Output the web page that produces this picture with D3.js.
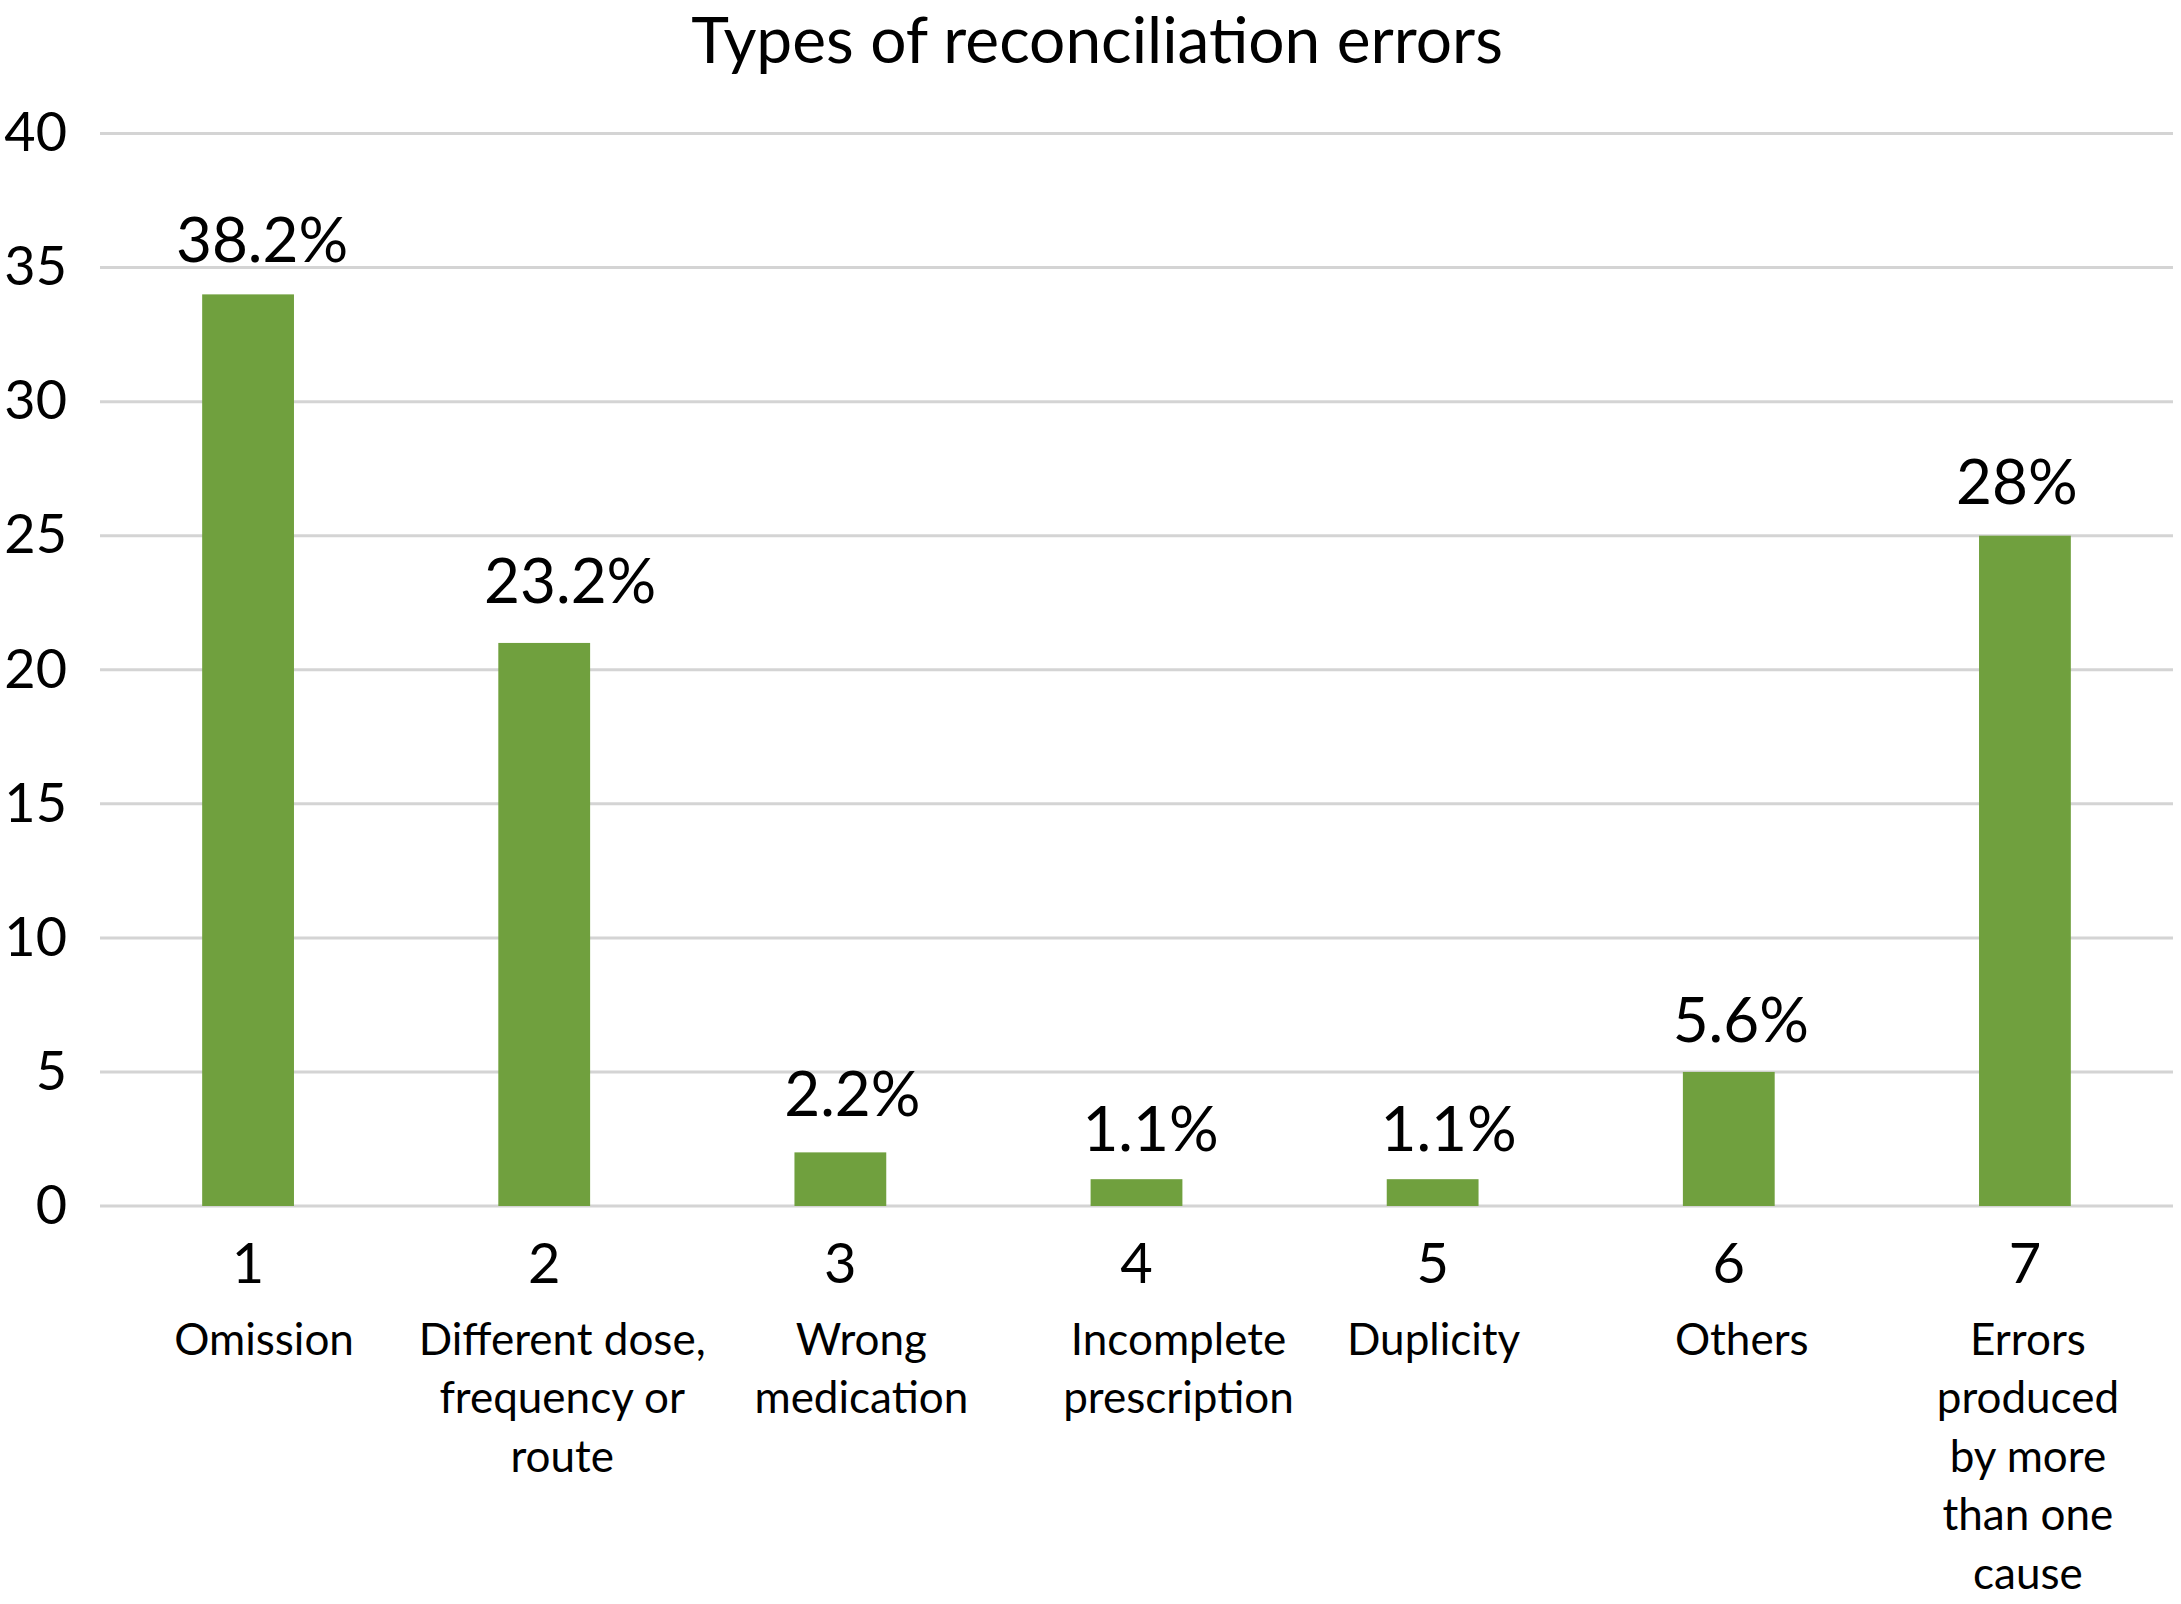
<!DOCTYPE html>
<html>
<head>
<meta charset="utf-8">
<script src="https://cdn.jsdelivr.net/npm/d3@7"></script>
<style>
  html, body { margin: 0; padding: 0; background: #ffffff; }
  svg { display: block; }
  text { font-family: Lato, "Open Sans", sans-serif; fill: #000; }
</style>
</head>
<body>
<script>
// ---- data ----
const categories = ["1", "2", "3", "4", "5", "6", "7"];
const values = [34, 21, 2, 1, 1, 5, 25];
const valueLabels = ["38.2%", "23.2%", "2.2%", "1.1%", "1.1%", "5.6%", "28%"];
const categoryNames = [
  ["Omission"],
  ["Different dose,", "frequency or", "route"],
  ["Wrong", "medication"],
  ["Incomplete", "prescription"],
  ["Duplicity"],
  ["Others"],
  ["Errors", "produced", "by more", "than one", "cause"]
];
const yTicks = [0, 5, 10, 15, 20, 25, 30, 35, 40];
const titleText = "Types of reconciliation errors";

// ---- layout ----
const W = 2181, H = 1604;
const plotLeft = 100, plotRight = 2173, plotTop = 133.5, plotBottom = 1206;
const valueNudge = [14, 26, 12, 14, 16, 12, -8];
const valueLift = [32, 40, 36, 28, 28, 30, 32];
const nameNudge = [16, 18, 21, 42, 1, 13, 3];

const svg = d3.select("body").append("svg").attr("width", W).attr("height", H);

const x = d3.scaleBand().domain(categories).range([plotLeft, plotRight])
  .paddingInner(0.69).paddingOuter(0.345);
const y = d3.scaleLinear().domain([0, 40]).range([plotBottom, plotTop]);

// gridlines
svg.append("g").selectAll("line").data(yTicks).join("line")
  .attr("x1", plotLeft).attr("x2", plotRight)
  .attr("y1", d => y(d)).attr("y2", d => y(d))
  .attr("stroke", "#d4d4d4").attr("stroke-width", 3);

// y axis labels
const yAxis = d3.axisLeft(y).tickValues(yTicks).tickSize(0).tickPadding(0);
const yg = svg.append("g").attr("transform", "translate(67,0)").call(yAxis);
yg.select(".domain").remove();
yg.selectAll("text").attr("font-size", 54).attr("font-family", "Lato, 'Open Sans', sans-serif").attr("fill", "#000");

// bars
svg.append("g").selectAll("rect").data(values).join("rect")
  .attr("x", (d, i) => x(categories[i]))
  .attr("width", x.bandwidth())
  .attr("y", d => y(d))
  .attr("height", d => y(0) - y(d))
  .attr("fill", "#70a03e");

// value labels
svg.append("g").selectAll("text").data(values).join("text")
  .attr("x", (d, i) => x(categories[i]) + x.bandwidth() / 2 + valueNudge[i])
  .attr("y", (d, i) => y(d) - valueLift[i])
  .attr("text-anchor", "middle")
  .attr("font-size", 62)
  .text((d, i) => valueLabels[i]);

// x axis numbers
const xAxis = d3.axisBottom(x).tickSize(0).tickPadding(0);
const xg = svg.append("g").attr("transform", "translate(0,1283)").call(xAxis);
xg.select(".domain").remove();
xg.selectAll("text").attr("dy", 0).attr("font-size", 56)
  .attr("font-family", "Lato, 'Open Sans', sans-serif").attr("fill", "#000");

// category names
const names = svg.append("g").selectAll("text").data(categoryNames).join("text")
  .attr("text-anchor", "middle")
  .attr("font-size", 44);
names.each(function(lines, i) {
  const cx = x(categories[i]) + x.bandwidth() / 2 + nameNudge[i];
  d3.select(this).selectAll("tspan").data(lines).join("tspan")
    .attr("x", cx)
    .attr("y", (l, j) => 1355 + j * 58.4)
    .text(l => l);
});

// title
svg.append("text")
  .attr("x", 1097).attr("y", 63)
  .attr("text-anchor", "middle")
  .attr("font-size", 64)
  .text(titleText);
</script>
</body>
</html>
